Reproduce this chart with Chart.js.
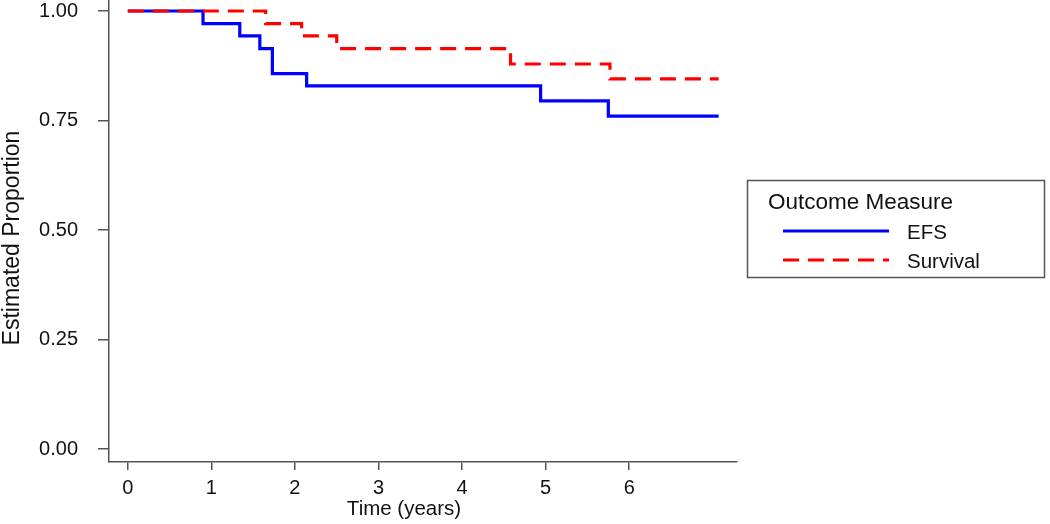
<!DOCTYPE html>
<html>
<head>
<meta charset="utf-8">
<script src="https://cdn.jsdelivr.net/npm/chart.js@4/dist/chart.umd.min.js"></script>
<style>
  html, body { margin: 0; padding: 0; background: #fff; }
  #wrap { width: 1050px; height: 524px; position: relative; }
</style>
</head>
<body>
<div id="wrap"><canvas id="km"></canvas></div>
<script>
// Kaplan-Meier step points (time in years, estimated proportion)
const efsTimes   = [0, 0.90, 1.34, 1.58, 1.73, 2.14, 4.94, 5.75, 7.07];
const efsValues  = [1.0, 0.971, 0.943, 0.914, 0.857, 0.829, 0.795, 0.760, 0.760];
const survTimes  = [0, 1.65, 2.08, 2.50, 4.58, 5.77, 7.07];
const survValues = [1.0, 0.971, 0.943, 0.914, 0.879, 0.845, 0.845];

const xTicks = [0, 1, 2, 3, 4, 5, 6];
const yTicks = [0, 0.25, 0.5, 0.75, 1.0];

const xTitle = 'Time (years)';
const yTitle = 'Estimated Proportion';
const legendTitle = 'Outcome Measure';

const FONT = '"Liberation Sans", Arial, sans-serif';
const AXIS = '#555';

const toPts = (xs, ys) => xs.map((x, i) => ({ x, y: ys[i] }));

// axis titles + boxed legend, R style
const extras = {
  id: 'extras',
  afterDraw(chart) {
    const { ctx } = chart;
    ctx.save();
    ctx.fillStyle = '#111';
    ctx.textBaseline = 'middle';

    ctx.font = `20.5px ${FONT}`;
    ctx.textAlign = 'center';
    ctx.fillText(xTitle, 404, 509);

    ctx.save();
    ctx.translate(13, 238);
    ctx.rotate(-Math.PI / 2);
    ctx.font = `23px ${FONT}`;
    ctx.fillText(yTitle, 0, 0);
    ctx.restore();

    // legend box
    ctx.strokeStyle = AXIS;
    ctx.lineWidth = 1.5;
    ctx.strokeRect(747.5, 180.5, 297, 97);
    ctx.textAlign = 'left';
    ctx.font = `22.5px ${FONT}`;
    ctx.fillText(legendTitle, 768, 203);

    const rows = [231, 260];
    [0, 1].forEach((i) => {
      const ds = chart.data.datasets[i];
      ctx.beginPath();
      ctx.strokeStyle = ds.borderColor;
      ctx.lineWidth = ds.borderWidth;
      ctx.setLineDash(ds.borderDash || []);
      ctx.moveTo(783, rows[i]);
      ctx.lineTo(889, rows[i]);
      ctx.stroke();
      ctx.setLineDash([]);
      ctx.font = `20.5px ${FONT}`;
      ctx.fillText(ds.label, 907, rows[i] + 2);
    });
    ctx.restore();
  }
};

new Chart(document.getElementById('km'), {
  type: 'line',
  data: {
    datasets: [
      { label: 'EFS', data: toPts(efsTimes, efsValues), borderColor: '#0000ff',
        borderWidth: 3.2, stepped: 'before', pointRadius: 0, order: 2, fill: false },
      { label: 'Survival', data: toPts(survTimes, survValues), borderColor: '#ff0000',
        borderWidth: 3.2, borderDash: [16, 9], stepped: 'before', pointRadius: 0, order: 1, fill: false },
    ],
  },
  options: {
    responsive: true,
    maintainAspectRatio: false,
    animation: false,
    layout: { padding: { left: 0, right: 313, top: 0, bottom: 0 } },
    plugins: { legend: { display: false }, tooltip: { enabled: false } },
    scales: {
      x: {
        type: 'linear',
        min: -0.225,
        max: 7.29,
        afterBuildTicks: (s) => { s.ticks = xTicks.map((v) => ({ value: v })); },
        afterFit: (s) => { s.height = 62; s.paddingLeft = 0; s.paddingRight = 0; },
        border: { display: true, color: AXIS, width: 1.5 },
        grid: { drawOnChartArea: false, drawTicks: true, tickLength: 8, color: AXIS, lineWidth: 1.5 },
        ticks: { color: '#111', font: { family: FONT, size: 20 }, padding: 6,
                 maxRotation: 0, autoSkip: false, callback: (v) => String(v) },
      },
      y: {
        type: 'linear',
        min: -0.0297,
        max: 1.0251,
        afterBuildTicks: (s) => { s.ticks = yTicks.map((v) => ({ value: v })); },
        afterFit: (s) => { s.width = 109; s.paddingTop = 0; s.paddingBottom = 0; },
        border: { display: true, color: AXIS, width: 1.5 },
        grid: { drawOnChartArea: false, drawTicks: true, tickLength: 11, color: AXIS, lineWidth: 1.5 },
        ticks: { color: '#111', font: { family: FONT, size: 20 }, padding: 20,
                 autoSkip: false, callback: (v) => Number(v).toFixed(2) },
      },
    },
  },
  plugins: [extras],
});
</script>
</body>
</html>
